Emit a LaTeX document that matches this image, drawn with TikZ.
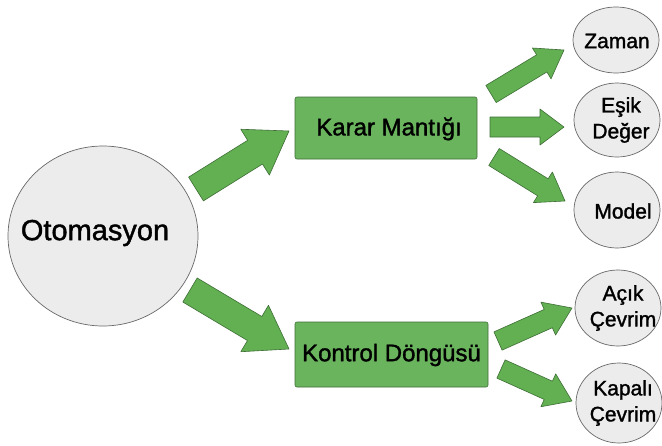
\documentclass[tikz,border=0pt]{standalone}
\usepackage{fontspec}
\setmainfont{Liberation Sans}[BoldFont=Liberation Sans, BoldFeatures={FakeBold=1.4}]
\usetikzlibrary{calc,shapes.geometric}
\definecolor{agreen}{RGB}{98,176,82}
\definecolor{bgreen}{RGB}{106,180,94}
\definecolor{aline}{RGB}{62,110,54}
\definecolor{cfill}{RGB}{236,236,236}
\definecolor{cline}{RGB}{105,105,105}
\tikzset{
  arrowblk/.style={fill=agreen, draw=aline, line width=0.6pt, line join=round},
  bigcirc/.style={ellipse, fill=cfill, draw=cline, line width=0.7pt, inner sep=0pt},
  smallcirc/.style={ellipse, fill=cfill, draw=cline, line width=0.7pt, inner sep=0pt, minimum width=86pt, minimum height=74pt},
  greenbox/.style={rectangle, rounded corners=2pt, fill=bgreen, draw=aline, line width=0.6pt, inner sep=0pt},
  bigtxt/.style={font=\fontsize{29}{34}\selectfont\bfseries, text=black},
  boxtxt/.style={font=\fontsize{24}{28}\selectfont\bfseries, text=black},
  smalltxt/.style={font=\fontsize{21}{26}\selectfont\bfseries, text=black, align=center},
}
% tail, tip, shaft half width, head half width, head length
\newcommand{\blockarrow}[5]{%
  \coordinate (#1-#2-hb) at ($(#2)!#5!(#1)$);
  \filldraw[arrowblk] ($(#1)!#3!90:(#2)$) -- ($(#1-#2-hb)!#3!90:(#2)$) --
    ($(#1-#2-hb)!#4!90:(#2)$) -- (#2) -- ($(#1-#2-hb)!#4!-90:(#2)$) --
    ($(#1-#2-hb)!#3!-90:(#2)$) -- ($(#1)!#3!-90:(#2)$) -- cycle;
}
\begin{document}
\begin{tikzpicture}[x=1pt,y=-1pt]
\useasboundingbox (0,0) rectangle (662,445);
\fill[white] (0,0) rectangle (662,445);

% main circle
\node[bigcirc, minimum width=190pt, minimum height=180pt] (oto) at (103,236) {};
\node[bigtxt] (otolbl) at (95,233) {Otomasyon};

% boxes
\node[greenbox, minimum width=182pt, minimum height=62pt] (karar) at (386,128) {};
\node[boxtxt] (kararlbl) at (389,129) {Karar Mantığı};
\node[greenbox, minimum width=193pt, minimum height=65pt] (kontrol) at (391.5,354.5) {};
\node[boxtxt] (kontrollbl) at (391.5,355) {Kontrol Döngüsü};

% small circles
\node[smallcirc, minimum height=66pt] (zaman) at (616,40) {};
\node[smalltxt] (zamanlbl) at (617,41) {Zaman};
\node[smallcirc] (esik) at (617,120) {};
\node[smalltxt] (esiklbl) at (621,120) {Eşik\\Değer};
\node[smallcirc, minimum height=76pt] (model) at (617,210) {};
\node[smalltxt] (modellbl) at (623,211) {Model};
\node[smallcirc, minimum height=76pt] (acik) at (618,308) {};
\node[smalltxt] (aciklbl) at (623,308) {Açık\\Çevrim};
\node[smallcirc, minimum height=80pt] (kapali) at (619,403) {};
\node[smalltxt] (kapalilbl) at (623,403) {Kapalı\\Çevrim};

% arrow end coordinates
\coordinate (t1) at (196,189); \coordinate (h1) at (289,131);
\coordinate (t2) at (190,290); \coordinate (h2) at (289,349);
\coordinate (t3) at (491,94);  \coordinate (h3) at (564,50);
\coordinate (t4) at (490,127); \coordinate (h4) at (564,127);
\coordinate (t5) at (494,157); \coordinate (h5) at (565,201);
\coordinate (t6) at (498,341); \coordinate (h6) at (572,308);
\coordinate (t7) at (501,369); \coordinate (h7) at (572,401);

\blockarrow{t1}{h1}{14pt}{27pt}{40pt}
\blockarrow{t2}{h2}{14pt}{27pt}{40pt}
\blockarrow{t3}{h3}{10pt}{18pt}{26pt}
\blockarrow{t4}{h4}{10pt}{18pt}{24pt}
\blockarrow{t5}{h5}{10pt}{18pt}{26pt}
\blockarrow{t6}{h6}{10pt}{18pt}{26pt}
\blockarrow{t7}{h7}{10pt}{18pt}{26pt}
\end{tikzpicture}
\end{document}
